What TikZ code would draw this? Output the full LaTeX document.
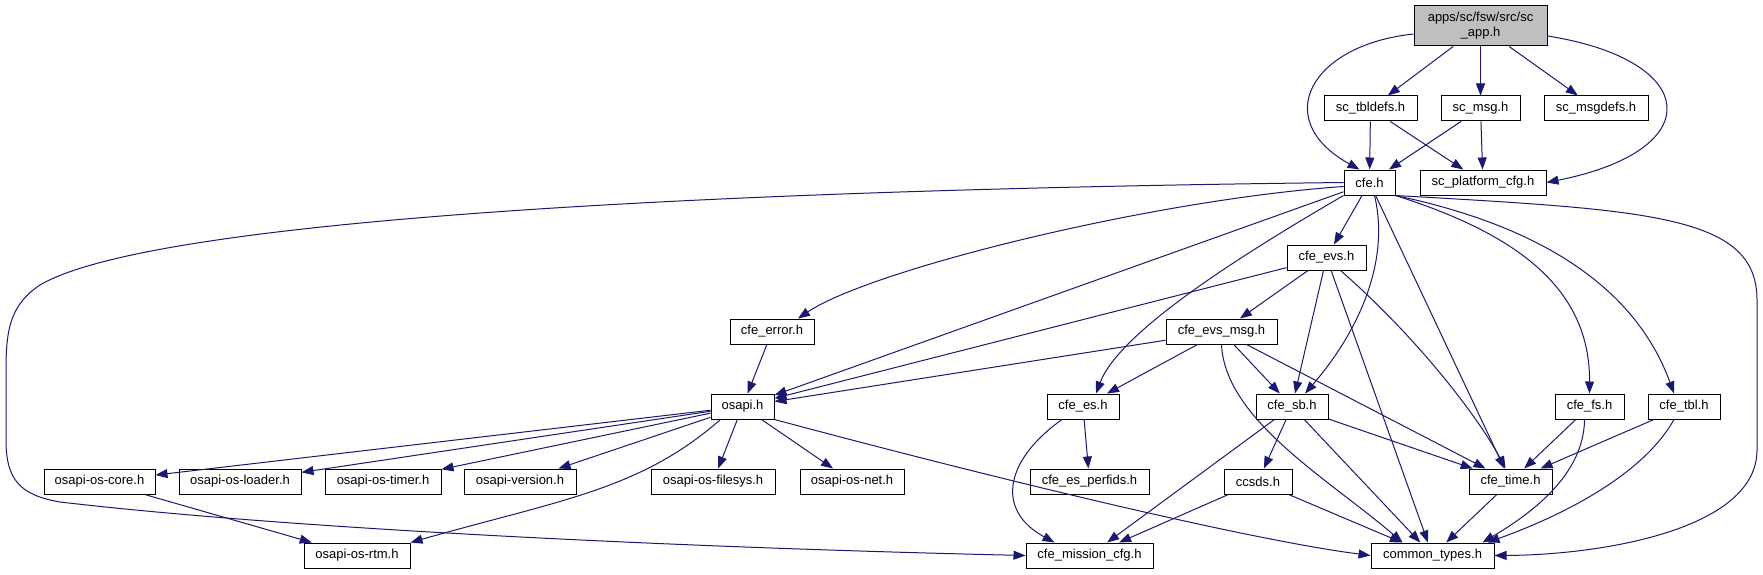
\documentclass[tikz,border=0pt]{standalone}
\usepackage{fontspec}
\setmainfont{Liberation Sans}
\usepackage{xcolor}
\usetikzlibrary{arrows.meta, positioning}
\definecolor{edgeblue}{HTML}{191970}
\definecolor{rootgray}{HTML}{BFBFBF}

\begin{document}
\begin{tikzpicture}[
  x=1pt, y=-1pt,
  box/.style={rectangle, draw=black, fill=white, line width=1pt, minimum height=25pt, inner sep=0pt, text centered, font=\fontsize{13}{15}\selectfont},
  root/.style={box, fill=rootgray, minimum height=40pt, align=center},
  arrow/.style={draw=edgeblue, line width=1pt, -{Triangle[length=12pt, width=9pt]}}
]
\useasboundingbox (0,0) rectangle (1763,575);

% Top level
\node (app) [root, minimum width=133pt] at (1480.5,26) {apps/sc/fsw/src/sc\\\_app.h};

% sc headers
\node (tbldefs) [box, minimum width=93pt] at (1370.5,108.5) {sc\_tbldefs.h};
\node (msg) [box, minimum width=79pt] at (1480.5,108.5) {sc\_msg.h};
\node (msgdefs) [box, minimum width=104pt] at (1596,108.5) {sc\_msgdefs.h};
\node (cfe) [box, minimum width=51pt] at (1369.5,182.5) {cfe.h};
\node (platcfg) [box, minimum width=126pt] at (1483,182.5) {sc\_platform\_cfg.h};

% cFE headers
\node (evs) [box, minimum width=79pt] at (1326.5,257.5) {cfe\_evs.h};
\node (error) [box, minimum width=84pt] at (772,331.5) {cfe\_error.h};
\node (evsmsg) [box, minimum width=111pt] at (1221.5,331.5) {cfe\_evs\_msg.h};
\node (osapi) [box, minimum width=63pt] at (742.5,406.5) {osapi.h};
\node (es) [box, minimum width=72pt] at (1083,406.5) {cfe\_es.h};
\node (sb) [box, minimum width=72pt] at (1292,406.5) {cfe\_sb.h};
\node (fs) [box, minimum width=69pt] at (1589.5,406.5) {cfe\_fs.h};
\node (tbl) [box, minimum width=72pt] at (1684,406.5) {cfe\_tbl.h};

% OSAL headers and leaves
\node (core) [box, minimum width=111pt] at (99.5,481.5) {osapi-os-core.h};
\node (loader) [box, minimum width=122pt] at (240,481.5) {osapi-os-loader.h};
\node (timer) [box, minimum width=116pt] at (383,481.5) {osapi-os-timer.h};
\node (version) [box, minimum width=112pt] at (520,481.5) {osapi-version.h};
\node (filesys) [box, minimum width=124pt] at (713,481.5) {osapi-os-filesys.h};
\node (net) [box, minimum width=104pt] at (852,481.5) {osapi-os-net.h};
\node (perfids) [box, minimum width=119pt] at (1089.5,481.5) {cfe\_es\_perfids.h};
\node (ccsds) [box, minimum width=68pt] at (1258,481.5) {ccsds.h};
\node (time) [box, minimum width=83pt] at (1510.5,481.5) {cfe\_time.h};
\node (rtm) [box, minimum width=106pt] at (357,555.5) {osapi-os-rtm.h};
\node (mission) [box, minimum width=127pt] at (1089.5,555.5) {cfe\_mission\_cfg.h};
\node (common) [box, minimum width=123pt] at (1432.5,555.5) {common\_types.h};

% Arrows from sc_app.h
\draw [arrow] ([yshift=-8pt]app.west) .. controls (1310,45) and (1270,120) .. ([xshift=-10pt]cfe.north);
\draw [arrow] (app) -- (tbldefs);
\draw [arrow] (app) -- (msg);
\draw [arrow] (app) -- (msgdefs);
\draw [arrow] ([yshift=-10pt]app.east) .. controls (1700,60) and (1710,150) .. (platcfg.east);
\draw [arrow] (tbldefs) -- (cfe);
\draw [arrow] (tbldefs) -- (platcfg);
\draw [arrow] (msg) -- (cfe);
\draw [arrow] (msg) -- (platcfg);

% Arrows from cfe.h
\draw [arrow] (cfe.west) .. controls (700,190) and (150,220) .. (40,285) .. controls (10,305) and (6,330) .. (6,370) -- (6,440) .. controls (6,480) and (20,495) .. (60,502) .. controls (300,530) and (700,548) .. (mission.west);
\draw [arrow] ([yshift=-4pt]cfe.west) .. controls (1150,200) and (870,270) .. ([xshift=26pt]error.north);
\draw [arrow] (cfe) -- (osapi);
\draw [arrow] (cfe) -- (evs);
\draw [arrow] (cfe.south west) .. controls (1250,250) and (1120,330) .. ([xshift=13pt]es.north);
\draw [arrow] ([xshift=5pt]cfe.south) .. controls (1390,260) and (1360,330) .. ([xshift=13pt]sb.north);
\draw [arrow] (cfe) -- (time);
\draw [arrow] (cfe.south east) .. controls (1520,235) and (1590,290) .. (fs.north);
\draw [arrow] (cfe.south east) .. controls (1560,230) and (1640,300) .. ([xshift=-10pt]tbl.north);
\draw [arrow] (cfe.south east) .. controls (1650,210) and (1757,215) .. (1757,300) -- (1757,450) .. controls (1757,530) and (1600,555) .. (common.east);

% Arrows from cfe_evs.h and cfe_evs_msg.h
\draw [arrow] (evs) -- (osapi);
\draw [arrow] (evs) -- (evsmsg);
\draw [arrow] (evs) -- (sb);
\draw [arrow] (evs) -- (common);
\draw [arrow] ([xshift=14pt]evs.south) .. controls (1420,340) and (1480,420) .. ([xshift=-5pt]time.north);
\draw [arrow] (evsmsg) -- (osapi);
\draw [arrow] (evsmsg) -- (es);
\draw [arrow] (evsmsg) -- (sb);
\draw [arrow] (evsmsg) -- (time);
\draw [arrow] (evsmsg.south) .. controls (1225,420) and (1330,480) .. ([xshift=-30pt]common.north);
\draw [arrow] (error) -- (osapi);

% Arrows from osapi.h
\draw [arrow] (osapi) -- (core);
\draw [arrow] (osapi) -- (loader);
\draw [arrow] (osapi) -- (timer);
\draw [arrow] (osapi) -- (version);
\draw [arrow] (osapi) -- (filesys);
\draw [arrow] (osapi) -- (net);
\draw [arrow] ([xshift=-22pt]osapi.south) .. controls (640,490) and (560,500) .. (rtm.north east);
\draw [arrow] (osapi.south east) .. controls (1000,480) and (1250,540) .. (common.west);
\draw [arrow] (core) -- (rtm);

% Arrows from the lower cFE headers
\draw [arrow] (es) -- (perfids);
\draw [arrow] ([xshift=-21pt]es.south) .. controls (1005,460) and (995,510) .. ([xshift=-35pt]mission.north);
\draw [arrow] (sb) -- (mission);
\draw [arrow] (sb) -- (ccsds);
\draw [arrow] (sb) -- (common);
\draw [arrow] (sb) -- (time);
\draw [arrow] (fs) -- (time);
\draw [arrow] ([xshift=-5pt]fs.south) .. controls (1584,480) and (1520,520) .. ([xshift=50pt]common.north);
\draw [arrow] (tbl) -- (time);
\draw [arrow] ([xshift=-10pt]tbl.south) .. controls (1640,480) and (1550,520) .. ([xshift=55pt]common.north);
\draw [arrow] (ccsds) -- (mission);
\draw [arrow] (ccsds) -- (common);
\draw [arrow] (time) -- (common);
\end{tikzpicture}
\end{document}
